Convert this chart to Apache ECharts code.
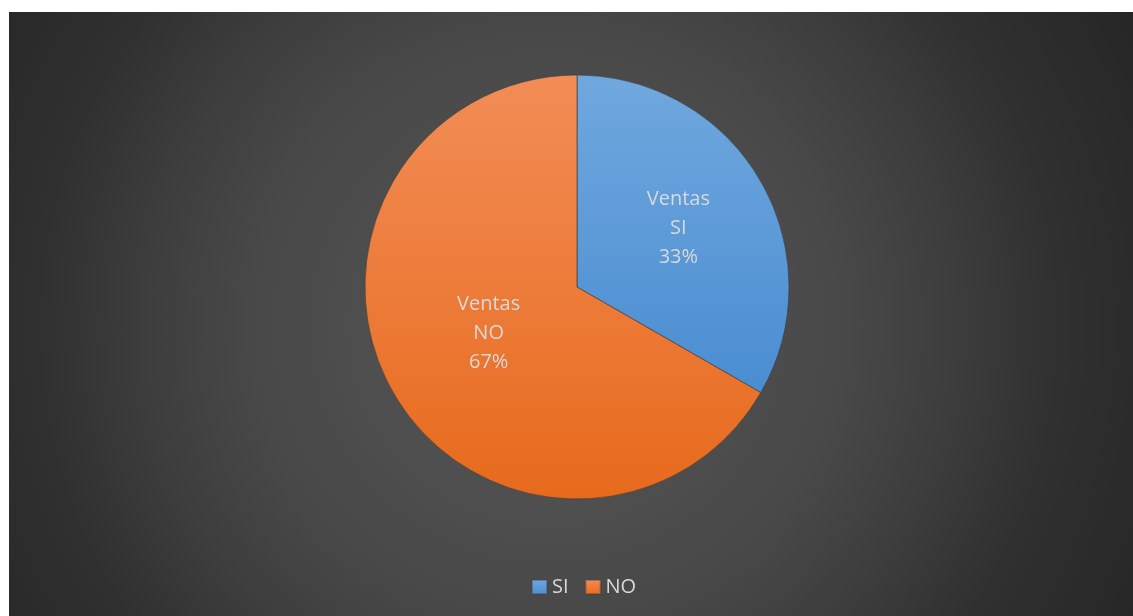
<!DOCTYPE html>
<html>
<head>
<meta charset="utf-8">
<script src="https://cdn.jsdelivr.net/npm/echarts@6/dist/echarts.min.js"></script>
<style>
  html, body { margin: 0; padding: 0; background: #ffffff; }
  #chart { position: absolute; left: 9px; top: 12px; width: 1124px; height: 604px; }
</style>
</head>
<body>
<div id="chart"></div>
<script>
// data (shares shown as 33% / 67%)
const categories = ['SI', 'NO'];
const seriesName = 'Ventas';
const values = [33.3, 66.7];

const sliceColors = {
  SI: ['#70a8de', '#4a8dd2'],
  NO: ['#f28d57', '#e76a1c']
};
// small nudges so the inside labels sit where the original ones do
const labelOffsets = {
  SI: [7, -4],
  NO: [6, -8]
};

const chart = echarts.init(document.getElementById('chart'));

const option = {
  backgroundColor: {
    type: 'radial', x: 0.48, y: 0.52, r: 1.1,
    colorStops: [
      { offset: 0, color: '#585858' },
      { offset: 0.45, color: '#484848' },
      { offset: 0.6, color: '#3e3e3e' },
      { offset: 0.77, color: '#303030' },
      { offset: 1, color: '#262626' }
    ]
  },
  legend: {
    data: categories,
    bottom: 14,
    left: 517,
    itemWidth: 15,
    itemHeight: 14,
    itemGap: 16,
    icon: 'rect',
    textStyle: { color: '#d9d9d9', fontSize: 20, fontFamily: 'Open Sans' }
  },
  series: [{
    name: seriesName,
    type: 'pie',
    center: [568, 275],
    radius: 212,
    startAngle: 90,
    clockwise: true,
    avoidLabelOverlap: false,
    itemStyle: { borderColor: 'rgba(60,60,60,0.35)', borderWidth: 1 },
    label: {
      position: 'inside',
      color: '#d9d9d9',
      fontSize: 20,
      fontFamily: 'Open Sans',
      lineHeight: 29,
      formatter: p => seriesName + '\n' + p.name + '\n' + Math.round(p.percent) + '%'
    },
    labelLine: { show: false },
    data: categories.map((c, i) => ({
      name: c,
      value: values[i],
      label: { offset: labelOffsets[c] },
      itemStyle: {
        color: {
          type: 'linear', x: 0, y: 0, x2: 0, y2: 1, global: false,
          colorStops: [
            { offset: 0, color: sliceColors[c][0] },
            { offset: 1, color: sliceColors[c][1] }
          ]
        }
      }
    }))
  }]
};

chart.setOption(option);
</script>
</body>
</html>
